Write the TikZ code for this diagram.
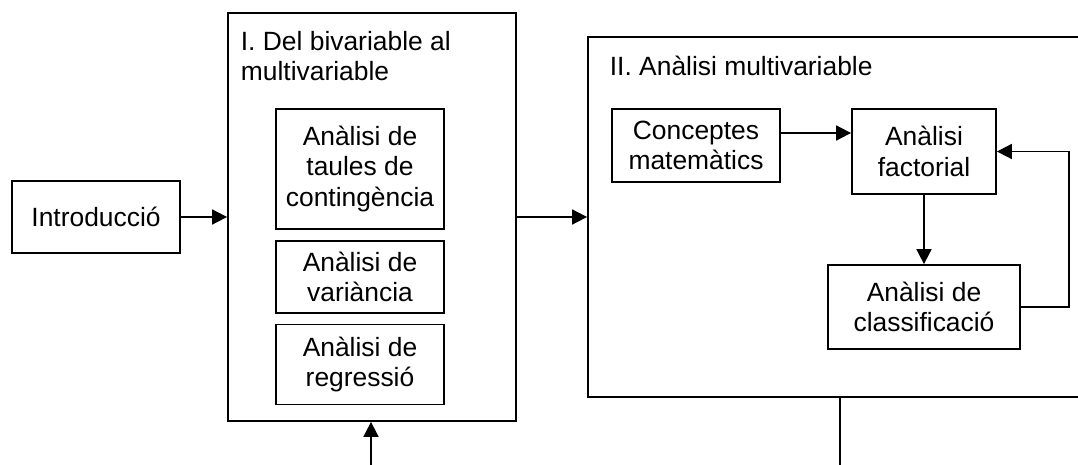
\documentclass[tikz,border=0pt]{standalone}
\usepackage{fontspec}
\setmainfont{Liberation Sans}
\usetikzlibrary{arrows.meta,calc}
\begin{document}
\begin{tikzpicture}[x=0.5pt,y=-0.5pt,line width=0.9pt,
    font=\fontsize{13.2pt}{15.2pt}\selectfont,
    box/.style={draw,align=center,inner sep=0pt},
    arr/.style={-{Triangle[length=7.5pt,width=7.5pt]}}]
    \useasboundingbox (0,0) rectangle (1078,465);
    \clip (0,0) rectangle (1078,465);
    \node[box,minimum width=84pt,minimum height=36pt] (intro) at (96,217) {Introducció};
    \node[box,minimum width=144pt,minimum height=204pt] (boxI) at (372,217) {};
    \node[anchor=north west,align=left,inner sep=0pt] (titleI) at (240,30) {I. Del bivariable al\\multivariable};
    \node[box,minimum width=84pt,minimum height=60pt] (taules) at (360,169) {Anàlisi de\\taules de\\contingència};
    \node[box,minimum width=84pt,minimum height=36pt] (varianc) at (360,277) {Anàlisi de\\variància};
    \node[box,minimum width=84pt,minimum height=40pt] (regres) at (360,364.5) {Anàlisi de\\regressió};
    \node[box,minimum width=252pt,minimum height=180pt] (boxII) at (840,217) {};
    \node[anchor=north west,inner sep=0pt] (titleII) at (609,55) {II. Anàlisi multivariable};
    \node[box,minimum width=84pt,minimum height=36.5pt] (concept) at (696,145.5) {Conceptes\\matemàtics};
    \node[box,minimum width=72pt,minimum height=42.5pt] (factorial) at (924,151.5) {Anàlisi\\factorial};
    \node[box,minimum width=96pt,minimum height=42pt] (classif) at (924,307) {Anàlisi de\\classificació};
    \coordinate (inI) at (371,465);
    \coordinate (outII) at (840,465);
    \draw[arr] (intro) -- (boxI);
    \draw[arr] (boxI) -- (boxII);
    \draw[arr] ([yshift=6.25pt]concept.east) -- ([yshift=6.25pt]concept.east -| factorial.west);
    \draw[arr] (factorial) -- (classif);
    \draw[arr] (classif.east) -- ++(24pt,0) |- (factorial.east);
    \draw[arr] (inI) -- (inI |- boxI.south);
    \draw (boxII.south) -- (outII);
\end{tikzpicture}
\end{document}
